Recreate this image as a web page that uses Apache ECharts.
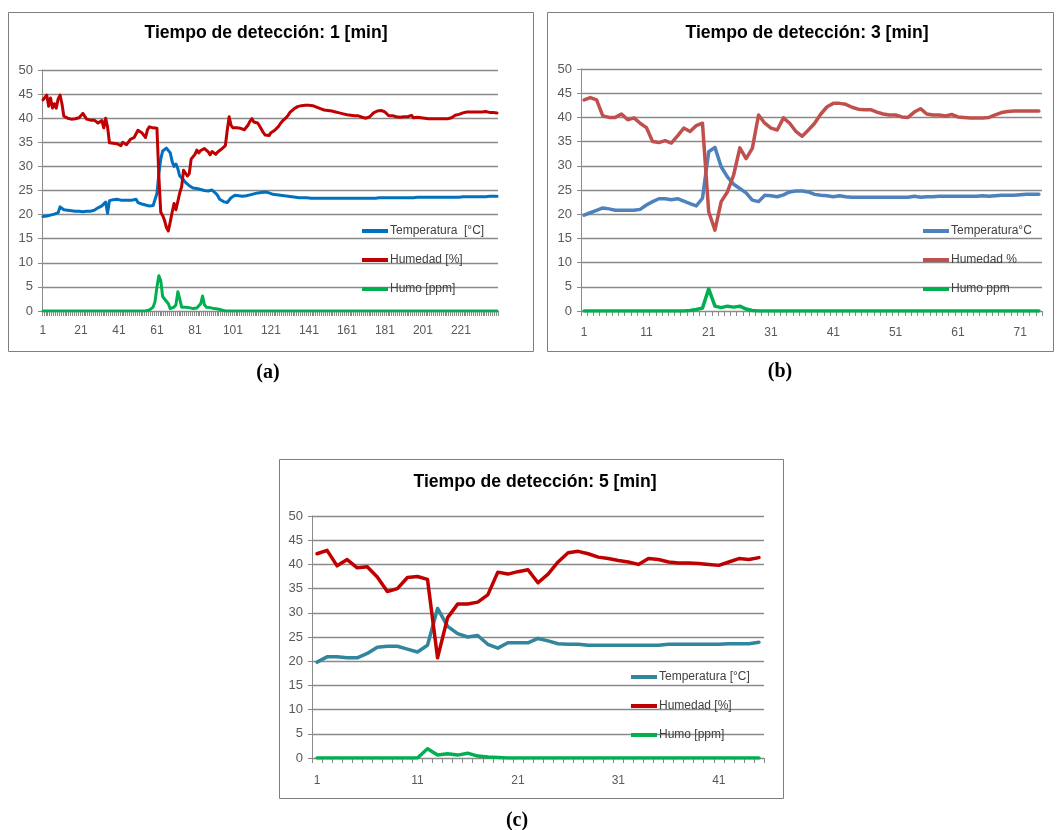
<!DOCTYPE html>
<html>
<head>
<meta charset="utf-8">
<script src="https://cdn.jsdelivr.net/npm/echarts@6/dist/echarts.min.js"></script>
<style>
html,body{margin:0;padding:0;background:#fff;}
#c{width:1057px;height:830px;}
</style>
</head>
<body>
<div id="c"></div>
<script>
// ---------- Chart (a): Tiempo de detección 1 min ----------
var tempA = [
19.6,19.6,19.7,19.8,19.9,20.0,20.1,20.0,20.4,21.6,
21.2,21.0,20.9,20.9,20.8,20.8,20.8,20.7,20.7,20.7,
20.6,20.6,20.6,20.7,20.7,20.7,20.8,20.9,21.1,21.4,
21.6,21.8,22.0,22.6,20.3,22.9,23.0,23.1,23.2,23.2,
23.1,23.0,23.0,23.0,22.9,23.0,23.0,23.0,22.9,23.2,
22.5,22.3,22.2,22.1,22.0,21.8,21.8,21.7,21.9,22.3,
24.4,28.5,31.5,33.2,33.5,33.8,33.5,32.8,31.0,30.0,
30.5,29.5,28.0,27.6,27.2,26.7,26.3,26.0,25.7,25.5,
25.5,25.4,25.3,25.2,25.1,25.0,24.9,24.9,24.9,25.1,
25.0,24.4,23.9,23.2,22.9,22.7,22.4,22.5,22.9,23.5,
23.9,24.0,24.0,23.9,23.9,23.8,23.8,23.9,24.0,24.1,
24.2,24.3,24.4,24.5,24.6,24.6,24.6,24.7,24.6,24.5,
24.3,24.2,24.2,24.1,24.0,24.0,23.9,23.9,23.8,23.8,
23.8,23.7,23.7,23.6,23.6,23.5,23.5,23.5,23.5,23.5,
23.5,23.4,23.4,23.4,23.4,23.4,23.4,23.4,23.4,23.4,
23.4,23.4,23.4,23.4,23.4,23.4,23.4,23.4,23.4,23.4,
23.4,23.4,23.4,23.4,23.4,23.4,23.4,23.4,23.4,23.4,
23.4,23.4,23.4,23.4,23.4,23.4,23.5,23.5,23.5,23.5,
23.5,23.5,23.5,23.5,23.5,23.5,23.5,23.5,23.5,23.5,
23.5,23.5,23.5,23.5,23.5,23.5,23.6,23.6,23.6,23.6,
23.6,23.6,23.6,23.6,23.6,23.6,23.6,23.6,23.6,23.6,
23.6,23.6,23.6,23.6,23.6,23.6,23.6,23.6,23.6,23.6,
23.6,23.7,23.7,23.7,23.7,23.7,23.7,23.7,23.7,23.7,
23.7,23.7,23.7,23.7,23.7,23.8,23.8,23.8,23.8,23.8
];
var humA = [
43.8,44.3,44.8,42.5,44.2,42.1,43.0,42.1,44.0,44.8,
43.0,40.4,40.1,40.0,39.9,39.8,39.8,39.9,39.9,40.1,
40.5,41.0,40.6,39.8,39.5,39.6,40.0,39.6,39.2,39.0,
38.6,39.5,38.0,40.0,38.2,34.9,34.8,34.8,34.6,34.7,
34.4,34.3,35.0,35.1,34.5,34.8,35.6,35.9,36.0,36.3,
37.5,37.3,37.0,36.8,36.0,37.6,38.2,38.1,38.0,37.9,
37.9,28.0,20.5,19.8,18.8,17.3,16.6,18.5,20.5,22.3,
21.0,20.8,24.5,25.8,29.2,29.6,28.0,28.5,31.5,31.8,
32.5,33.4,32.8,33.3,33.6,33.7,33.4,33.0,32.4,33.1,
32.8,32.5,33.0,33.2,33.6,34.0,34.3,37.5,40.3,38.5,
38.0,38.3,38.0,37.9,37.9,37.7,37.6,37.9,38.6,39.4,
39.9,39.2,38.9,39.0,38.4,37.7,37.0,36.5,36.2,36.4,
37.0,37.2,37.5,37.9,38.3,38.9,39.4,39.8,40.1,40.6,
41.2,41.6,41.9,42.2,42.4,42.5,42.6,42.7,42.7,42.7,
42.7,42.7,42.6,42.4,42.3,42.2,42.0,41.8,41.7,41.7,
41.6,41.6,41.5,41.4,41.3,41.2,41.1,41.0,40.9,40.8,
40.7,40.6,40.6,40.6,40.5,40.5,40.5,40.4,40.2,40.0,
40.0,40.1,40.3,40.7,41.1,41.3,41.5,41.7,41.6,41.3,
41.3,40.9,40.5,40.6,40.5,40.4,40.3,40.3,40.2,40.3,
40.3,40.2,40.3,40.5,40.6,40.1,40.2,40.2,40.1,40.1,
40.0,40.0,39.9,39.9,39.9,39.9,39.9,39.9,39.9,39.9,
39.9,39.9,39.9,39.9,40.0,40.1,40.4,40.6,40.7,40.8,
40.9,41.1,41.2,41.3,41.3,41.3,41.3,41.3,41.3,41.3,
41.3,41.3,41.4,41.4,41.3,41.2,41.2,41.2,41.1,41.1
];
var humoA = [
0,0,0,0,0,0,0,0,0,0,
0,0,0,0,0,0,0,0,0,0,
0,0,0,0,0,0,0,0,0,0,
0,0,0,0,0,0,0,0,0,0,
0,0,0,0,0,0,0,0,0,0,
0,0,0,0,0,0.1,0.2,0.4,0.8,2.0,
5.0,7.3,6.3,3.0,2.5,2.2,1.5,0.5,0.5,0.8,
1.3,4.0,2.5,0.8,0.8,0.8,0.8,0.7,0.6,0.5,
0.5,0.6,1.0,1.5,3.1,1.3,0.8,0.7,0.7,0.6,
0.5,0.5,0.4,0.3,0.2,0.1,0,0,0,0,
0,0,0,0,0,0,0,0,0,0,
0,0,0,0,0,0,0,0,0,0,
0,0,0,0,0,0,0,0,0,0,
0,0,0,0,0,0,0,0,0,0,
0,0,0,0,0,0,0,0,0,0,
0,0,0,0,0,0,0,0,0,0,
0,0,0,0,0,0,0,0,0,0,
0,0,0,0,0,0,0,0,0,0,
0,0,0,0,0,0,0,0,0,0,
0,0,0,0,0,0,0,0,0,0,
0,0,0,0,0,0,0,0,0,0,
0,0,0,0,0,0,0,0,0,0,
0,0,0,0,0,0,0,0,0,0,
0,0,0,0,0,0,0,0,0,0
];

// ---------- Chart (b): Tiempo de detección 3 min ----------
var tempB = [
19.8,20.3,20.8,21.3,21.1,20.8,20.8,20.8,20.8,21.0,
21.9,22.6,23.2,23.2,23.0,23.2,22.7,22.2,21.7,23.3,
32.9,33.8,29.8,27.7,26.2,25.3,24.4,22.9,22.6,23.9,
23.8,23.6,24.0,24.6,24.8,24.8,24.6,24.1,23.9,23.8,
23.6,23.8,23.6,23.5,23.5,23.5,23.5,23.5,23.5,23.5,
23.5,23.5,23.5,23.7,23.5,23.6,23.6,23.7,23.7,23.7,
23.7,23.7,23.7,23.7,23.8,23.7,23.8,23.9,23.9,23.9,
24.0,24.1,24.1,24.1
];
var humB = [
43.6,44.1,43.6,40.3,40.0,40.0,40.7,39.5,39.9,38.8,
37.9,35.0,34.8,35.2,34.7,36.2,37.8,37.1,38.3,38.8,
20.5,16.7,22.6,24.6,28.1,33.7,31.5,33.6,40.5,38.8,
37.8,37.4,39.9,38.8,37.1,36.1,37.4,38.8,40.7,42.2,
42.9,42.9,42.7,42.1,41.7,41.6,41.6,41.1,40.7,40.5,
40.5,40.1,40.0,41.1,41.8,40.7,40.5,40.5,40.3,40.6,
40.1,40.0,39.9,39.9,39.9,40.0,40.5,41.0,41.2,41.3,
41.3,41.3,41.3,41.3
];
var humoB = [
0,0,0,0,0,0,0,0,0,0,
0,0,0,0,0,0,0,0.1,0.3,0.6,
4.6,1.0,0.7,1.0,0.8,1.0,0.4,0.1,0,0,
0,0,0,0,0,0,0,0,0,0,
0,0,0,0,0,0,0,0,0,0,
0,0,0,0,0,0,0,0,0,0,
0,0,0,0,0,0,0,0,0,0,
0,0,0,0
];

// ---------- Chart (c): Tiempo de detección 5 min ----------
var tempC = [
19.8,20.9,20.9,20.7,20.7,21.6,22.9,23.1,23.1,22.5,
21.9,23.3,30.9,27.2,25.7,25.0,25.3,23.5,22.7,23.8,
23.8,23.8,24.7,24.2,23.6,23.5,23.5,23.3,23.3,23.3,
23.3,23.3,23.3,23.3,23.3,23.5,23.5,23.5,23.5,23.5,
23.5,23.6,23.6,23.6,23.9
];
var humC = [
42.2,42.9,39.7,41.0,39.3,39.5,37.4,34.4,35.0,37.3,
37.5,36.9,20.7,29.0,31.8,31.8,32.2,33.7,38.4,38.0,
38.5,38.9,36.2,38.0,40.5,42.4,42.7,42.2,41.5,41.2,
40.8,40.5,40.0,41.2,41.0,40.5,40.3,40.3,40.2,40.0,
39.8,40.5,41.2,41.0,41.4
];
var humoC = [
0,0,0,0,0,0,0,0,0,0,
0,1.9,0.6,0.9,0.6,1.0,0.4,0.2,0.1,0,
0,0,0,0,0,0,0,0,0,0,
0,0,0,0,0,0,0,0,0,0,
0,0,0,0,0
];

var titles = ['Tiempo de detección: 1 [min]','Tiempo de detección: 3 [min]','Tiempo de detección: 5 [min]'];
var namesA = ['Temperatura  [°C]','Humedad [%]','Humo [ppm]'];
var namesB = ['Temperatura°C','Humedad %','Humo ppm'];
var namesC = ['Temperatura [°C]','Humedad [%]','Humo [ppm]'];
var panelLabels = ['(a)','(b)','(c)'];
var labelStep = [20,10,10];

function cats(n){ var a=[]; for(var i=1;i<=n;i++) a.push(String(i)); return a; }

var gridCol = '#8a8a8a';
var lblCol = '#595959';
var FONT = 'Liberation Sans';

var panels = [
  {grid:{left:42, top:70, width:456, height:241}, n:tempA.length, data:[tempA,humA,humoA], names:namesA,
   colors:['#0070C0','#C00000','#00B050'], lw:3, legend:{left:362, top:224}, lm:14,
   title:{x:266, y:33}, box:[8,12,525,339], plabel:[268,373]},
  {grid:{left:581, top:69, width:461, height:242}, n:tempB.length, data:[tempB,humB,humoB], names:namesB,
   colors:['#4F81BD','#C0504D','#00B050'], lw:3.5, legend:{left:923, top:224}, lm:16,
   title:{x:807, y:33}, box:[547,12,506,339], plabel:[780,372]},
  {grid:{left:312, top:516, width:452, height:242}, n:tempC.length, data:[tempC,humC,humoC], names:namesC,
   colors:['#31859C','#C00000','#00B050'], lw:3.5, legend:{left:631, top:670}, lm:17,
   title:{x:535, y:482}, box:[279,459,504,339], plabel:[517,821]}
];

var option = {
  animation:false,
  backgroundColor:'#fff',
  title:[], grid:[], xAxis:[], yAxis:[], legend:[], series:[], graphic:[]
};

panels.forEach(function(p, k){
  option.graphic.push({type:'rect', silent:true, z:-10,
    shape:{x:p.box[0]+0.5, y:p.box[1]+0.5, width:p.box[2], height:p.box[3]},
    style:{fill:'#fff', stroke:'#7f7f7f', lineWidth:1}});
  option.graphic.push({type:'text', silent:true, x:p.plabel[0], y:p.plabel[1],
    style:{text:panelLabels[k], font:'bold 20px "Liberation Serif"', fill:'#000', align:'center', verticalAlign:'middle'}});
  option.graphic.push({type:'text', silent:true, x:p.title.x, y:p.title.y,
    style:{text:titles[k], font:'bold 17.6px "Liberation Sans"', fill:'#000', align:'center', verticalAlign:'middle'}});
  option.grid.push({left:p.grid.left, top:p.grid.top, width:p.grid.width, height:p.grid.height, containLabel:false});
  option.xAxis.push({type:'category', gridIndex:k, data:cats(p.n), boundaryGap:true,
    axisLine:{lineStyle:{color:gridCol, width:1}},
    axisTick:{show:true, interval:0, length:5, lineStyle:{color:gridCol}},
    axisLabel:{interval:labelStep[k]-1, color:lblCol, fontFamily:FONT, fontSize:12, margin:p.lm},
    splitLine:{show:false}});
  option.yAxis.push({type:'value', gridIndex:k, min:0, max:50, interval:5,
    axisLine:{show:true, lineStyle:{color:gridCol, width:1}},
    axisTick:{show:true, length:4, lineStyle:{color:gridCol}},
    axisLabel:{color:lblCol, fontFamily:FONT, fontSize:13, margin:9},
    splitLine:{show:true, lineStyle:{color:gridCol, width:1.3}}});
  option.legend.push({orient:'vertical', left:p.legend.left, top:p.legend.top, itemGap:15,
    itemWidth:26, itemHeight:4, icon:'rect', padding:0,
    data:p.names.slice(),
    textStyle:{color:'#404040', fontFamily:FONT, fontSize:12, lineHeight:14, padding:[0,0,0,-3]}});
  for(var s=0;s<3;s++){
    option.series.push({type:'line', name:p.names[s], xAxisIndex:k, yAxisIndex:k,
      data:p.data[s], symbol:'none', showSymbol:false,
      color:p.colors[s],
      lineStyle:{color:p.colors[s], width:p.lw, cap:'round', join:'round'}});
  }
});

var chart = echarts.init(document.getElementById('c'), null, {renderer:'canvas'});
chart.setOption(option);
</script>
</body>
</html>
